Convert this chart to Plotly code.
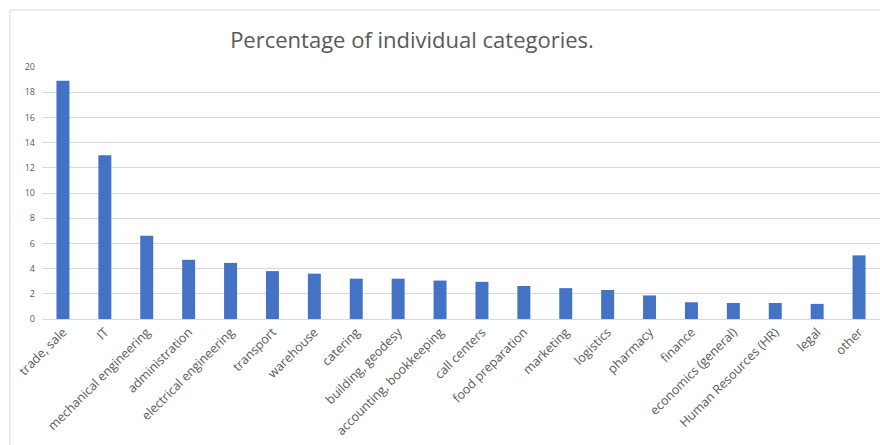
import plotly.graph_objects as go

categories = ["trade, sale", "IT", "mechanical engineering", "administration",
              "electrical engineering", "transport", "warehouse", "catering",
              "building, geodesy", "accounting, bookkeeping", "call centers",
              "food preparation", "marketing", "logistics", "pharmacy", "finance",
              "economics (general)", "Human Resources (HR)", "legal", "other"]
values = [18.9, 13.0, 6.6, 4.7, 4.45, 3.8, 3.6, 3.2, 3.2, 3.05, 2.95, 2.62,
          2.45, 2.3, 1.87, 1.33, 1.27, 1.27, 1.2, 5.05]
y_ticks = list(range(0, 21, 2))

W, H = 880, 445
ml, mr, mt, mb = 42, 0, 67, 126
pw, ph = W - ml - mr, H - mt - mb

fig = go.Figure(go.Bar(x=categories, y=values, marker_color="#4472C4",
                       marker_line_width=0))

def px_x(p):
    return (p - ml) / pw

def px_y(p):
    return (H - mb - p) / ph

fig.update_layout(
    width=W, height=H,
    margin=dict(l=ml, r=mr, t=mt, b=mb),
    paper_bgcolor="white", plot_bgcolor="white",
    bargap=0.69,
    showlegend=False,
    font=dict(family="Open Sans", color="#595959"),
    title=dict(text="Percentage of individual categories.",
               x=px_x(412), xref="paper", xanchor="center",
               y=1 - 40 / H, yref="container", yanchor="middle",
               font=dict(size=22, color="#595959", family="Open Sans")),
    xaxis=dict(tickangle=-45, tickfont=dict(size=12.5, color="#595959"),
               showgrid=False, showline=True, linecolor="#d9d9d9", linewidth=1,
               ticks="", range=[-0.5, 19.5]),
    yaxis=dict(range=[0, 20], tickvals=y_ticks, tickfont=dict(size=9, color="#595959"),
               showgrid=True, gridcolor="#d9d9d9", gridwidth=1, zeroline=False,
               ticks="", showline=False, ticklabelstandoff=6),
    shapes=[dict(type="rect", xref="paper", yref="paper",
                 x0=px_x(10), x1=px_x(1000), y0=px_y(10), y1=px_y(1000),
                 line=dict(color="#d9d9d9", width=1), fillcolor="rgba(0,0,0,0)",
                 layer="below")],
)

fig.write_html("out.html")
